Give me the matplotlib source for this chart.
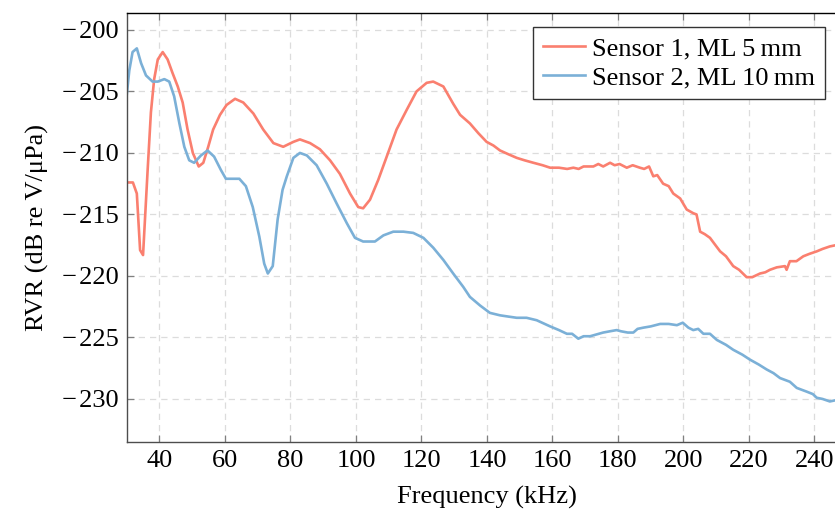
import matplotlib.pyplot as plt
import numpy as np

# ---------------- measured RVR curves ----------------
freq_s1 = [30.1, 31.9, 33.1, 34.1, 35.0, 36.4, 37.4, 38.4, 39.5, 41.0, 42.5, 44.0,
           45.6, 47.1, 48.6, 50.2, 52.0, 53.4, 54.9, 56.4, 58.5, 60.5, 63.1, 65.6,
           68.7, 71.7, 74.8, 77.8, 80.9, 82.9, 86.0, 89.0, 92.1, 95.1, 98.2, 100.7,
           102.2, 104.3, 106.8, 109.4, 112.4, 115.5, 118.5, 121.6, 123.6, 126.7,
           129.7, 131.8, 134.8, 137.4, 139.9, 142.0, 144.0, 146.5, 149.1, 151.5,
           154.2, 157.0, 159.3, 162.0, 164.5, 166.4, 168.0, 169.5, 172.5, 174.0,
           175.5, 177.6, 179.0, 180.5, 182.7, 184.5, 186.7, 188.0, 189.5, 190.8,
           192.0, 193.8, 195.5, 196.9, 199.0, 201.0, 203.0, 204.0, 205.1, 206.5,
           208.1, 209.5, 211.2, 213.0, 215.2, 217.0, 219.3, 221.0, 223.4, 225.0,
           226.4, 228.5, 231.0, 231.5, 232.5, 234.5, 236.6, 238.5, 240.7, 242.5,
           244.7, 246.5]
rvr_s1 = [-212.4, -212.4, -213.3, -217.9, -218.3, -211.4, -206.7, -204.0, -202.4,
          -201.8, -202.4, -203.5, -204.6, -205.9, -208.1, -210.0, -211.1, -210.8,
          -209.5, -208.1, -206.9, -206.1, -205.6, -205.9, -206.8, -208.1, -209.2,
          -209.5, -209.1, -208.9, -209.2, -209.7, -210.6, -211.7, -213.3, -214.4,
          -214.5, -213.8, -212.2, -210.3, -208.1, -206.5, -205.0, -204.3, -204.2,
          -204.6, -206.0, -206.9, -207.6, -208.4, -209.1, -209.4, -209.8, -210.1,
          -210.4, -210.6, -210.8, -211.0, -211.2, -211.2, -211.3, -211.2, -211.3,
          -211.1, -211.1, -210.9, -211.1, -210.8, -211.0, -210.9, -211.2, -211.0,
          -211.2, -211.3, -211.1, -211.9, -211.8, -212.5, -212.7, -213.3, -213.7,
          -214.6, -214.9, -215.0, -216.4, -216.6, -216.9, -217.4, -218.0, -218.4,
          -219.2, -219.5, -220.1, -220.1, -219.8, -219.7, -219.5, -219.3, -219.2,
          -219.5, -218.8, -218.8, -218.4, -218.2, -218.0, -217.8, -217.6, -217.5]

freq_s2 = [29.9, 30.8, 31.8, 33.1, 34.4, 35.9, 37.9, 39.5, 41.5, 43.0, 44.5, 46.1,
           47.6, 49.1, 50.6, 52.7, 54.7, 56.7, 58.8, 60.3, 64.4, 66.4, 68.5, 70.5,
           72.0, 73.1, 74.6, 76.1, 77.6, 78.9, 80.9, 82.9, 85.0, 88.0, 91.1, 94.1,
           97.2, 99.7, 102.2, 105.8, 108.4, 111.4, 114.5, 117.5, 120.6, 123.6, 126.7,
           129.7, 132.8, 134.8, 137.9, 140.9, 144.0, 146.5, 149.1, 152.1, 155.2,
           159.3, 162.0, 164.4, 166.0, 167.9, 169.5, 171.5, 175.5, 177.5, 179.6,
           181.0, 183.0, 184.7, 186.0, 187.8, 190.0, 192.9, 195.5, 198.0, 199.8,
           201.5, 203.0, 204.5, 206.1, 208.1, 210.2, 213.0, 215.2, 218.0, 220.3,
           223.0, 225.4, 227.5, 229.5, 232.5, 234.6, 237.6, 239.5, 240.7, 242.5,
           244.7, 246.5]
rvr_s2 = [-205.6, -203.3, -201.8, -201.5, -202.7, -203.7, -204.2, -204.2, -204.0,
          -204.2, -205.4, -207.6, -209.5, -210.6, -210.8, -210.2, -209.8, -210.3,
          -211.4, -212.1, -212.1, -212.7, -214.4, -216.8, -219.0, -219.8, -219.2,
          -215.4, -213.0, -211.9, -210.4, -210.0, -210.2, -211.0, -212.5, -214.1,
          -215.7, -216.9, -217.2, -217.2, -216.7, -216.4, -216.4, -216.5, -216.9,
          -217.7, -218.7, -219.8, -220.9, -221.7, -222.4, -223.0, -223.2, -223.3,
          -223.4, -223.4, -223.6, -224.1, -224.4, -224.7, -224.7, -225.1, -224.9,
          -224.9, -224.6, -224.5, -224.4, -224.5, -224.6, -224.6, -224.3, -224.2,
          -224.1, -223.9, -223.9, -224.0, -223.8, -224.2, -224.4, -224.3, -224.7,
          -224.7, -225.2, -225.6, -226.0, -226.4, -226.8, -227.2, -227.6, -227.9,
          -228.3, -228.6, -229.1, -229.4, -229.6, -229.9, -230.0, -230.2, -230.1]

labels = ['Sensor 1, ML 5\u2009mm', 'Sensor 2, ML 10\u2009mm']
colors = ['#fa7f6f', '#7bb0d7']

x_ticks = np.arange(40, 260, 20)
y_ticks = np.arange(-230, -195, 5)

plt.rcParams['font.family'] = ['Liberation Serif', 'DejaVu Serif']
fs = 19

fig = plt.figure(figsize=(8.35, 5.14), dpi=100)
ax = fig.add_axes([0.1517, 0.140, 0.8629, 0.8353])

ax.plot(freq_s1, rvr_s1, color=colors[0], lw=1.9, label=labels[0])
ax.plot(freq_s2, rvr_s2, color=colors[1], lw=1.9, label=labels[1])

ax.set_xlim(30, 250)
ax.set_ylim(-233.5, -198.6)
ax.set_xticks(x_ticks)
ax.set_yticks(y_ticks)
ax.set_yticklabels(['\u2212\u200a%d' % abs(v) for v in y_ticks])

ax.grid(True, color='#dcdcdc', ls=(0, (5, 4)), lw=0.9)
ax.tick_params(direction='in', length=5, width=0.9, color='#808080',
               labelsize=fs, top=True)
ax.tick_params(axis='x', pad=6)
ax.tick_params(axis='y', pad=6)

for side in ['left', 'bottom']:
    ax.spines[side].set_color('#4d4d4d')
    ax.spines[side].set_linewidth(1.0)
ax.spines['top'].set_color('black')
ax.spines['top'].set_linewidth(1.0)

ax.set_xlabel('Frequency (kHz)', fontsize=fs, labelpad=10)
ax.set_ylabel('RVR (dB re V/\u03bcPa)', fontsize=fs, labelpad=9)

# legend anchored to the figure, the axes box runs past the right edge
leg = ax.legend(loc='upper right', bbox_to_anchor=(0.988, 0.9475),
                bbox_transform=fig.transFigure, borderaxespad=0,
                fontsize=fs, fancybox=False, framealpha=1,
                handlelength=1.6, handletextpad=0.25, labelspacing=0.2,
                borderpad=0.38)
leg.get_frame().set_edgecolor('#333333')
leg.get_frame().set_linewidth(1.0)

fig.savefig('out.png', dpi=100)
